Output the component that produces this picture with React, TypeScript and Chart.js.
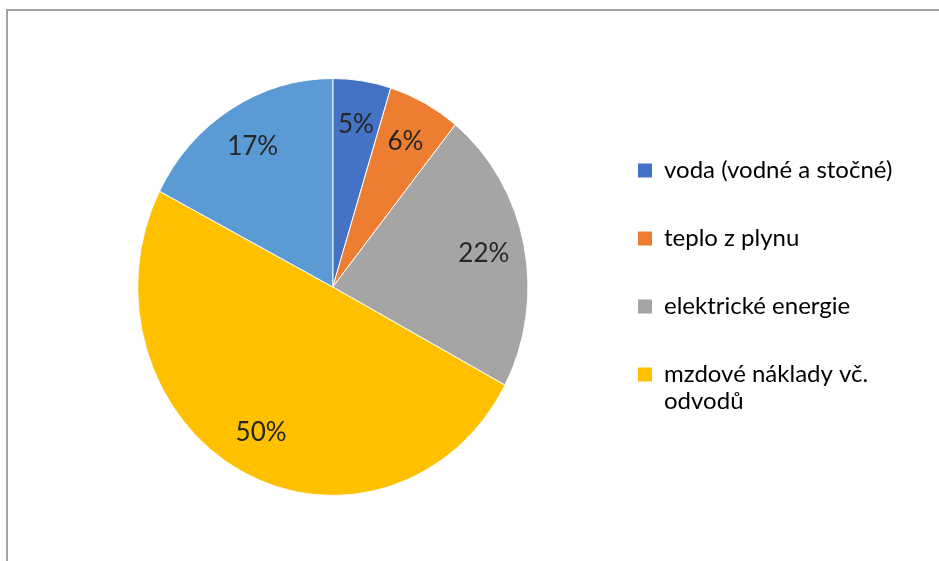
import React, { useEffect, useRef } from "react";
import { Chart, registerables } from "chart.js";

Chart.register(...registerables);

// ---- data ----
const categories: string[] = [
  "voda (vodné a stočné)",
  "teplo z plynu",
  "elektrické energie",
  "mzdové náklady vč. odvodů",
  "",
];
const legendLines: string[][] = [
  ["voda (vodné a stočné)"],
  ["teplo z plynu"],
  ["elektrické energie"],
  ["mzdové náklady vč.", "odvodů"],
  [],
];
const shares: number[] = [4.8, 6.0, 22.0, 49.8, 17.4];
const colors: string[] = ["#4472C4", "#ED7D31", "#A5A5A5", "#FFC000", "#5B9BD5"];

// ---- layout constants ----
const W = 939;
const H = 561;
const SQUASH = 0.936; // horizontal squash of the pie in the reference
const PIE_CX = 332.8;
const LEGEND_PAD = 44;
const LEGEND_LEFT = 638 - LEGEND_PAD;
const LABEL_R = 0.79;
const FONT = "Lato, 'Open Sans', 'DejaVu Sans', sans-serif";

const squashPlugin = {
  id: "squash",
  beforeDatasetsDraw(chart: any) {
    const arc = chart.getDatasetMeta(0).data[0];
    if (!arc) return;
    const ctx = chart.ctx;
    ctx.save();
    ctx.translate(arc.x, arc.y);
    ctx.scale(SQUASH, 1);
    ctx.translate(-arc.x, -arc.y);
  },
  afterDatasetsDraw(chart: any) {
    chart.ctx.restore();
  },
};

const labelPlugin = {
  id: "pctLabels",
  afterDatasetsDraw(chart: any) {
    const ctx = chart.ctx;
    const meta = chart.getDatasetMeta(0);
    const data = chart.data.datasets[0].data as number[];
    const total = data.reduce((a, b) => a + b, 0);
    ctx.save();
    ctx.font = `26px ${FONT}`;
    ctx.fillStyle = "#262626";
    ctx.textAlign = "center";
    ctx.textBaseline = "middle";
    meta.data.forEach((arc: any, i: number) => {
      const { x, y, startAngle, endAngle, outerRadius } = arc.getProps(
        ["x", "y", "startAngle", "endAngle", "outerRadius"],
        true
      );
      const mid = (startAngle + endAngle) / 2;
      const px = x + Math.cos(mid) * outerRadius * LABEL_R * SQUASH;
      const py = y + Math.sin(mid) * outerRadius * LABEL_R;
      ctx.fillText(Math.round((data[i] / total) * 100) + "%", px, py);
    });
    ctx.restore();
  },
};

export default function App() {
  const ref = useRef<HTMLCanvasElement | null>(null);

  useEffect(() => {
    if (!ref.current) return;
    const chart = new Chart(ref.current, {
      type: "pie",
      data: {
        labels: categories,
        datasets: [
          {
            data: shares,
            backgroundColor: colors,
            borderColor: "#ffffff",
            borderWidth: 1,
          },
        ],
      },
      options: {
        animation: false,
        responsive: false,
        layout: { padding: { top: 78, bottom: 65, left: 75, right: 40 } },
        plugins: {
          tooltip: { enabled: false },
          legend: {
            position: "right",
            align: "center",
            labels: {
              boxWidth: 14,
              boxHeight: 14,
              padding: LEGEND_PAD,
              color: "#404040",
              font: { family: FONT, size: 24, lineHeight: 1.1 },
              generateLabels: () =>
                legendLines
                  .map((lines, i) => ({
                    text: lines.length > 1 ? lines : lines[0],
                    fillStyle: colors[i],
                    strokeStyle: colors[i],
                    lineWidth: 0,
                    hidden: false,
                    index: i,
                  }))
                  .filter((it) => it.text !== undefined) as any,
            },
          },
        },
      },
      plugins: [squashPlugin, labelPlugin],
    });
    // second pass: place legend at LEGEND_LEFT and pie centre at PIE_CX
    const lw = chart.legend ? chart.legend.width : 300;
    const pad: any = (chart.options.layout as any).padding;
    pad.right = W - LEGEND_LEFT - lw;
    pad.left = 2 * PIE_CX - LEGEND_LEFT;
    chart.update();
    return () => chart.destroy();
  }, []);

  return (
    <>
      <div
        style={{
          position: "absolute",
          left: 6,
          top: 9,
          width: W - 6,
          height: H - 9,
          boxSizing: "border-box",
          borderLeft: "2px solid #a3a3a3",
          borderTop: "2px solid #a3a3a3",
        }}
      />
      <canvas
        ref={ref}
        width={W}
        height={H}
        style={{ position: "absolute", left: 0, top: 0, width: W, height: H }}
      />
    </>
  );
}
